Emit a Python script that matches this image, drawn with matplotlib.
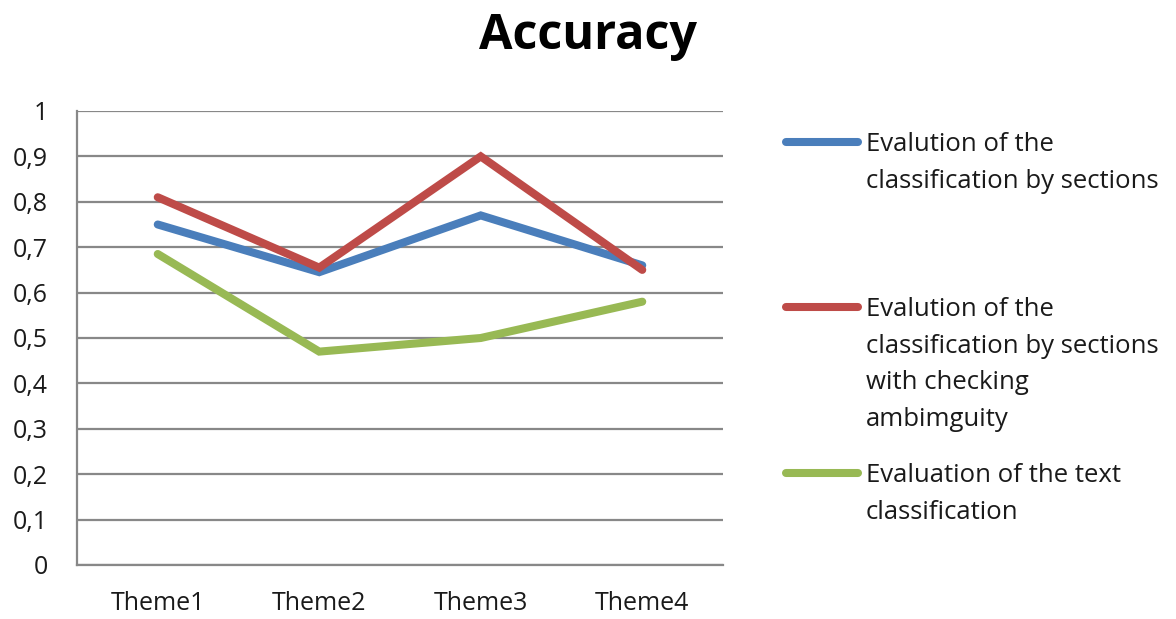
import matplotlib
matplotlib.use("Agg")
import matplotlib.pyplot as plt
from matplotlib.lines import Line2D
from matplotlib.ticker import FixedLocator, FuncFormatter

plt.rcParams['font.family'] = ['Open Sans', 'DejaVu Sans']

categories = ["Theme1", "Theme2", "Theme3", "Theme4"]
sections = [0.75, 0.645, 0.77, 0.66]
sections_ambiguity = [0.81, 0.655, 0.90, 0.65]
text_classification = [0.685, 0.47, 0.50, 0.58]

labels = [
    "Evalution of the\nclassification by sections",
    "Evalution of the\nclassification by sections\nwith checking\nambimguity",
    "Evaluation of the text\nclassification",
]
colors = ["#4A7EBB", "#BE4B48", "#98B954"]
series = [sections, sections_ambiguity, text_classification]

W, H = 1176, 619
fig = plt.figure(figsize=(W / 100, H / 100), dpi=100)
ax = fig.add_axes([77 / W, 1 - 565 / H, (723 - 77) / W, (565 - 111) / H])

x = list(range(len(categories)))
for vals, col in zip(series, colors):
    ax.plot(x, vals, color=col, lw=5.8, solid_capstyle='round',
            solid_joinstyle='miter', zorder=3)

ax.set_xlim(-0.5, len(categories) - 0.5)
ax.set_ylim(0, 1)
yt = [i / 10 for i in range(11)]
ax.yaxis.set_major_locator(FixedLocator(yt))
ax.yaxis.set_major_formatter(FuncFormatter(
    lambda v, p: "0" if v == 0 else ("1" if v == 1 else f"{v:.1f}".replace(".", ","))))
ax.set_xticks(x)
ax.set_xticklabels(categories)
ax.tick_params(axis='both', length=0, labelsize=18, colors='#1a1a1a')
ax.tick_params(axis='y', pad=21)
ax.tick_params(axis='x', pad=19)
ax.grid(axis='y', color='#888888', lw=1.6, zorder=1)
for s in ['top', 'right']:
    ax.spines[s].set_visible(False)
for s in ['left', 'bottom']:
    ax.spines[s].set_color('#888888')
    ax.spines[s].set_linewidth(1.6)

fig.text(0.5, 1 - 49 / H, "Accuracy", ha='center', va='baseline',
         fontsize=35, fontweight='bold', color='#000000')

# legend entries, placed to the right of the plot area
entry_rows = [142, 307, 473]
for lab, col, row in zip(labels, colors, entry_rows):
    yline = 1 - row / H
    fig.add_artist(Line2D([786 / W, 858 / W], [yline, yline], color=col,
                          lw=5.8, solid_capstyle='round', transform=fig.transFigure))
    fig.text(866 / W, 1 - (row - 10) / H, lab, ha='left', va='top', fontsize=18.5,
             color='#1a1a1a', linespacing=1.61)

fig.savefig("out.png", dpi=100, facecolor='white')
